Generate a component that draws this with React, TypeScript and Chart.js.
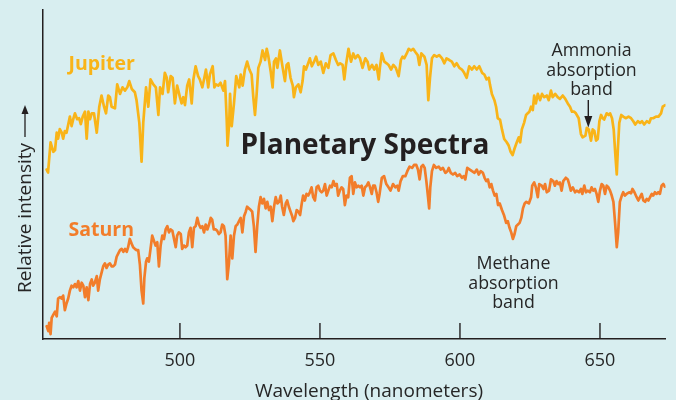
import React, { useEffect, useRef } from 'react';
import { Chart, registerables } from 'chart.js';

Chart.register(...registerables);

// Wavelength range (nm) and tick labels
const xMin = 451.1;
const xMax = 673.4;
const xTickValues = [500, 550, 600, 650];

// [wavelength nm, relative intensity 0..100]
const jupiterSpectrum: [number, number][] = [
  [452.4,51.5],[452.9,50.6],[453.8,59.8],[454.8,56.9],[455.4,57.4],[456.0,62.7],[456.5,60.9],[457.1,63.8],[457.8,62.7],[458.3,60.9],
  [458.9,63.2],[459.5,62.7],[460.7,67.6],[461.3,64.7],[461.9,66.8],[462.5,68.6],[463.3,66.8],[464.0,67.1],[464.6,65.3],[465.3,67.6],
  [466.1,69.1],[466.7,60.9],[467.3,69.1],[467.9,66.8],[468.5,68.6],[469.3,68.6],[470.3,62.7],[471.2,70.6],[472.0,74.0],[472.9,70.6],
  [473.6,68.6],[474.4,74.0],[475.0,73.5],[475.6,70.6],[476.8,70.1],[477.6,77.4],[478.6,74.5],[479.5,76.5],[480.4,75.5],[481.2,76.5],
  [481.9,78.4],[482.8,76.0],[483.9,75.0],[484.5,72.6],[485.5,65.7],[486.3,53.9],[486.9,65.7],[487.9,76.5],[488.7,70.6],[489.5,78.9],
  [490.5,77.4],[491.4,76.5],[492.3,68.1],[492.9,76.5],[493.8,74.5],[494.6,80.9],[495.3,79.4],[495.8,75.0],[496.7,79.9],[497.4,79.4],
  [498.2,71.6],[499.0,77.0],[500.0,73.5],[500.6,71.6],[501.2,73.5],[501.8,71.1],[502.6,77.0],[503.3,78.9],[504.2,71.6],[504.8,78.9],
  [505.6,82.9],[506.5,79.9],[507.1,78.9],[508.0,76.5],[508.6,78.9],[509.3,81.9],[510.1,76.5],[510.7,80.4],[511.7,82.9],[512.3,76.5],
  [512.9,77.4],[513.7,77.0],[514.5,77.9],[515.5,75.5],[516.1,78.4],[516.7,66.7],[517.0,58.8],[517.6,65.7],[517.9,74.5],[518.5,64.7],
  [519.3,71.6],[520.1,79.9],[521.2,76.5],[521.7,80.4],[522.4,77.0],[523.2,81.9],[524.0,84.3],[524.8,81.9],[525.6,80.4],[526.2,73.5],
  [526.8,68.1],[527.4,74.5],[528.0,82.4],[528.8,84.3],[529.5,87.7],[530.4,84.8],[531.0,88.2],[531.5,86.3],[532.4,81.4],[533.1,76.5],
  [533.6,84.3],[534.3,85.3],[534.8,82.4],[535.7,87.7],[536.7,82.4],[537.5,78.4],[538.1,83.3],[538.7,83.8],[539.5,79.4],[540.3,77.0],
  [540.7,73.5],[541.4,76.5],[542.3,77.4],[543.1,75.0],[543.8,78.4],[544.3,82.9],[545.0,81.9],[545.8,83.8],[546.4,85.3],[547.1,82.9],
  [547.9,84.3],[548.6,85.8],[549.4,83.3],[550.3,84.3],[551.2,80.9],[552.1,83.8],[553.0,82.4],[553.8,86.3],[554.8,86.8],[555.7,84.8],
  [556.5,83.3],[557.2,83.8],[558.1,83.3],[558.7,78.9],[559.3,83.3],[560.2,88.2],[561.1,84.3],[561.9,86.8],[562.6,85.3],[563.5,86.3],
  [564.3,85.3],[565.2,82.4],[566.2,85.3],[567.0,84.3],[567.6,81.9],[568.6,83.3],[569.4,81.9],[570.2,83.3],[571.0,78.9],[571.4,82.4],
  [572.1,86.8],[573.0,84.3],[573.8,83.8],[574.5,83.3],[575.4,81.9],[576.2,83.3],[577.1,82.4],[578.1,79.9],[578.9,84.8],[579.5,85.8],
  [580.1,85.3],[581.0,86.8],[581.7,88.2],[582.5,87.7],[583.3,88.2],[584.0,87.3],[584.9,86.3],[585.5,83.3],[586.2,86.8],[587.3,85.8],
  [588.1,83.3],[588.7,72.6],[589.3,79.4],[590.0,85.3],[590.8,86.3],[591.7,85.8],[592.6,86.3],[593.6,85.3],[594.4,83.8],[595.2,85.3],
  [596.2,84.8],[597.1,84.3],[598.0,82.9],[598.8,83.8],[599.8,82.4],[600.7,81.9],[601.5,80.9],[602.4,79.4],[603.3,82.9],[604.3,81.9],
  [605.1,82.9],[606.0,81.9],[606.9,82.9],[607.9,80.9],[608.7,80.4],[609.5,78.9],[610.3,79.4],[610.7,77.4],[611.4,74.5],[612.3,72.6],
  [612.9,70.6],[613.5,67.1],[614.3,66.7],[615.0,63.7],[615.8,60.8],[616.7,59.8],[617.4,58.8],[618.1,56.9],[618.8,55.9],[619.5,57.9],
  [620.3,59.8],[621.0,61.3],[621.5,59.8],[622.1,63.7],[622.9,65.7],[623.6,68.1],[624.2,68.6],[624.8,69.1],[625.4,70.6],[626.0,69.6],
  [626.5,74.0],[627.1,71.6],[627.8,74.5],[628.6,72.6],[629.3,74.5],[630.1,73.5],[631.0,74.0],[631.7,72.6],[632.5,75.5],[633.1,73.5],
  [634.0,74.5],[634.9,73.5],[635.7,73.0],[636.7,74.0],[637.6,73.0],[638.5,71.6],[639.3,70.6],[640.0,69.1],[640.8,69.1],[641.4,68.6],
  [642.4,67.1],[643.2,62.3],[643.8,61.3],[644.8,61.8],[645.3,64.2],[646.0,63.7],[646.8,60.3],[647.4,63.7],[648.0,63.2],[648.6,60.3],
  [649.2,60.8],[649.8,66.2],[650.4,68.1],[651.0,67.1],[651.5,66.7],[652.4,68.6],[653.1,68.1],[653.6,68.6],[654.3,67.1],[654.9,63.7],
  [655.5,55.9],[656.0,50.0],[656.4,57.9],[656.9,65.7],[657.6,68.1],[658.3,67.6],[659.3,67.1],[660.2,67.6],[661.1,67.1],[661.9,66.2],
  [662.6,65.2],[663.5,66.2],[664.3,65.7],[665.0,66.2],[665.8,65.2],[666.7,66.2],[667.6,65.7],[668.2,67.1],[669.0,67.1],[670.0,67.6],
  [670.9,67.6],[671.8,68.6],[672.4,70.6],[673.3,71.1],
];

const saturnSpectrum: [number, number][] = [
  [452.4,3.9],[453.0,2.4],[453.3,4.9],[453.8,1.5],[454.2,6.4],[454.8,7.4],[455.4,8.3],[456.0,6.9],[456.5,12.3],[457.1,12.7],
  [457.8,12.3],[458.3,13.2],[458.9,8.8],[459.5,10.8],[460.1,12.3],[460.7,14.7],[461.3,16.2],[461.9,15.7],[462.5,16.7],[463.1,15.7],
  [463.7,17.6],[464.3,14.7],[464.9,17.1],[465.5,16.2],[466.1,12.7],[466.7,15.7],[467.3,11.8],[467.9,16.7],[468.5,18.1],[469.0,16.2],
  [469.6,17.1],[470.3,19.1],[470.8,14.7],[471.4,18.1],[472.0,20.1],[472.6,22.1],[473.2,23.0],[473.8,21.6],[474.4,22.6],[475.0,23.0],
  [475.6,22.1],[476.2,22.1],[476.8,22.6],[477.4,25.0],[478.0,26.0],[478.6,27.0],[479.2,27.4],[479.8,26.5],[480.4,27.4],[481.0,26.5],
  [481.5,27.9],[482.1,30.4],[482.8,28.9],[483.3,27.9],[483.9,27.4],[484.5,27.0],[485.1,27.0],[485.7,22.6],[486.3,14.7],[486.9,10.8],
  [487.3,18.6],[487.9,23.5],[488.3,24.5],[488.9,23.5],[489.5,27.4],[490.1,31.4],[490.7,29.9],[491.3,28.4],[491.9,29.4],[492.5,22.1],
  [493.1,28.4],[493.7,31.4],[494.3,30.4],[494.9,33.3],[495.5,34.3],[496.1,32.4],[496.7,33.3],[497.3,32.9],[497.9,30.4],[498.5,27.9],
  [499.0,31.4],[499.6,32.4],[500.3,31.9],[500.8,27.4],[501.4,28.4],[502.0,27.9],[502.6,28.4],[503.2,32.4],[503.8,33.8],[504.4,27.9],
  [505.0,33.8],[505.6,34.3],[506.2,36.8],[506.8,34.8],[507.4,33.8],[508.0,34.3],[508.6,32.4],[509.2,34.8],[509.8,33.3],[510.4,34.8],
  [511.0,36.8],[511.5,36.3],[512.1,33.3],[512.8,33.3],[513.3,32.9],[513.9,31.9],[514.5,32.4],[515.1,34.8],[515.7,34.3],[516.3,31.4],
  [516.9,18.2],[517.5,23.0],[518.1,31.4],[518.7,24.5],[519.3,31.4],[519.9,34.3],[520.5,34.8],[521.1,35.8],[521.7,36.8],[522.3,32.4],
  [522.9,37.3],[523.5,38.7],[524.0,40.2],[524.6,39.7],[525.3,39.2],[525.8,38.7],[526.4,34.3],[527.0,26.5],[527.6,34.3],[528.2,40.2],
  [528.8,43.1],[529.4,41.2],[530.0,42.6],[530.6,39.7],[531.2,41.7],[531.8,39.2],[532.4,40.2],[533.0,35.8],[533.6,40.2],[534.2,43.1],
  [534.8,41.2],[535.4,41.7],[536.0,43.6],[536.5,40.2],[537.1,37.7],[537.8,41.2],[538.3,42.1],[538.9,40.2],[539.5,38.7],[540.1,37.3],
  [540.5,35.8],[541.1,36.8],[541.7,39.2],[542.3,38.7],[542.9,37.7],[543.5,41.2],[544.0,43.6],[544.6,42.1],[545.2,44.1],[545.8,43.6],
  [546.4,44.6],[547.0,46.1],[547.6,43.1],[548.2,42.1],[548.8,46.1],[549.4,46.6],[550.0,45.1],[550.6,44.6],[551.2,45.1],[551.8,47.1],
  [552.4,43.6],[553.0,45.1],[553.6,46.6],[554.2,46.1],[554.8,48.0],[555.4,46.6],[556.0,47.1],[556.5,43.6],[557.1,45.1],[557.7,46.1],
  [558.3,45.6],[558.9,40.7],[559.5,43.6],[560.1,43.1],[560.7,49.0],[561.3,49.5],[561.9,44.1],[562.5,47.6],[563.1,46.1],[563.7,46.6],
  [564.3,46.1],[564.9,46.6],[565.5,43.6],[566.1,46.1],[566.7,46.6],[567.3,47.6],[567.9,46.1],[568.5,44.1],[569.0,46.6],[569.6,46.6],
  [570.2,44.6],[570.8,41.7],[571.3,44.1],[572.1,49.0],[572.9,49.5],[573.7,47.1],[574.5,46.1],[575.2,45.1],[576.1,47.1],[576.9,46.1],
  [577.6,46.6],[578.1,45.1],[578.8,48.0],[579.6,49.5],[580.5,49.5],[581.2,51.0],[582.0,52.4],[582.9,52.0],[583.6,52.9],[584.4,52.9],
  [585.0,51.5],[585.6,48.5],[586.2,52.4],[586.8,52.9],[587.4,52.0],[588.0,48.0],[588.6,43.1],[589.0,39.7],[589.4,46.1],[590.0,51.0],
  [590.7,52.9],[591.5,52.0],[592.4,52.4],[593.1,51.5],[593.9,52.0],[594.8,50.5],[595.5,51.0],[596.0,52.0],[596.7,50.5],[597.5,50.0],
  [598.3,50.5],[599.0,49.5],[599.9,50.0],[600.7,49.0],[601.4,49.5],[601.9,48.5],[602.6,52.0],[603.5,51.5],[604.3,51.0],[605.2,50.5],
  [606.0,51.5],[606.7,50.0],[607.4,51.0],[608.2,50.5],[608.8,49.0],[609.4,48.0],[610.0,48.5],[610.6,46.1],[611.2,47.1],[611.8,45.1],
  [612.4,43.6],[613.0,44.1],[613.6,40.7],[614.2,41.2],[615.0,39.2],[615.7,37.7],[616.5,35.3],[617.1,35.8],[617.7,33.8],[618.3,32.4],
  [618.9,30.4],[619.5,31.9],[620.1,34.3],[620.7,34.8],[621.3,35.3],[621.9,36.8],[622.5,39.7],[623.1,41.2],[623.7,41.7],[624.6,41.2],
  [625.4,43.1],[625.8,46.6],[626.5,47.6],[627.1,46.1],[627.8,43.1],[628.3,47.1],[629.2,46.6],[629.8,45.6],[630.4,47.1],[631.0,44.6],
  [631.8,45.1],[632.5,48.5],[633.3,48.0],[633.9,46.6],[634.5,48.0],[635.1,47.1],[635.7,47.6],[636.3,45.1],[636.9,48.0],[637.8,49.0],
  [638.5,48.5],[639.0,47.1],[639.6,45.1],[640.3,46.1],[641.1,44.6],[641.7,45.1],[642.5,44.6],[643.2,45.6],[643.7,44.1],[644.4,46.6],
  [645.0,44.6],[645.6,45.1],[646.4,44.6],[647.0,46.1],[647.6,45.1],[648.2,45.6],[648.8,44.1],[649.4,41.7],[650.0,45.1],[650.6,47.1],
  [651.2,46.6],[651.8,44.1],[652.4,46.6],[653.0,46.1],[653.6,45.1],[654.2,43.6],[654.8,41.7],[655.4,35.3],[656.0,27.9],[656.5,32.4],
  [657.1,41.7],[657.8,43.6],[658.3,44.6],[658.9,43.6],[659.5,44.1],[660.4,44.6],[661.1,44.3],[661.6,45.6],[662.3,44.6],[663.1,43.1],
  [663.7,42.1],[664.3,43.1],[664.9,44.1],[665.5,42.1],[666.1,41.7],[666.7,42.6],[667.3,42.1],[667.9,43.1],[668.5,44.1],[669.0,43.6],
  [669.6,44.6],[670.2,44.1],[670.8,44.6],[671.4,44.1],[672.0,46.6],[672.6,47.1],[673.2,46.3],
];

const BG = '#d8eef0';
const JUPITER = '#f9b418';
const SATURN = '#f27d2a';
const AXIS = '#231f20';
const TEXT = '#262626';
const FONT = '"Open Sans", "Noto Sans", sans-serif';

const decorPlugin = {
  id: 'decor',
  beforeDraw(chart: any) {
    const { ctx, width, height } = chart;
    ctx.save();
    ctx.fillStyle = BG;
    ctx.fillRect(0, 0, width, height);
    ctx.restore();
  },
  afterDraw(chart: any) {
    const { ctx, chartArea } = chart;
    const xs = chart.scales.x;
    ctx.save();
    // inward tick marks
    ctx.strokeStyle = AXIS;
    ctx.lineWidth = 1.4;
    xTickValues.forEach((v) => {
      const px = xs.getPixelForValue(v);
      ctx.beginPath();
      ctx.moveTo(px, chartArea.bottom);
      ctx.lineTo(px, chartArea.bottom - 16);
      ctx.stroke();
    });

    // series labels
    ctx.textAlign = 'left';
    ctx.textBaseline = 'alphabetic';
    ctx.font = `bold 19.5px ${FONT}`;
    ctx.fillStyle = JUPITER;
    ctx.fillText('Jupiter', 68.5, 70);
    ctx.fillStyle = SATURN;
    ctx.fillText('Saturn', 68.5, 236);

    // title
    ctx.textAlign = 'center';
    ctx.fillStyle = AXIS;
    ctx.font = `bold 28px ${FONT}`;
    ctx.fillText('Planetary Spectra', 365, 154);

    // annotations
    ctx.fillStyle = TEXT;
    ctx.font = `17.8px ${FONT}`;
    ['Ammonia', 'absorption', 'band'].forEach((t, i) => ctx.fillText(t, 591.5, 56 + i * 19.7));
    ['Methane', 'absorption', 'band'].forEach((t, i) => ctx.fillText(t, 513.5, 269 + i * 19.7));

    // ammonia arrow
    ctx.strokeStyle = AXIS;
    ctx.lineWidth = 1.4;
    ctx.beginPath();
    ctx.moveTo(588.3, 100);
    ctx.lineTo(588.3, 118);
    ctx.stroke();
    ctx.fillStyle = AXIS;
    ctx.beginPath();
    ctx.moveTo(584.3, 116);
    ctx.lineTo(592.3, 116);
    ctx.lineTo(588.3, 127.5);
    ctx.closePath();
    ctx.fill();

    // x axis title
    ctx.fillStyle = TEXT;
    ctx.font = `19px ${FONT}`;
    ctx.fillText('Wavelength (nanometers)', 369, 396.5);

    // y axis title, rotated
    ctx.save();
    ctx.translate(31, 218);
    ctx.rotate(-Math.PI / 2);
    ctx.textAlign = 'center';
    ctx.fillText('Relative intensity', 0, 0);
    ctx.restore();

    // y title arrow
    ctx.strokeStyle = AXIS;
    ctx.lineWidth = 1.3;
    ctx.beginPath();
    ctx.moveTo(25, 137);
    ctx.lineTo(25, 112);
    ctx.stroke();
    ctx.fillStyle = AXIS;
    ctx.beginPath();
    ctx.moveTo(21.5, 114);
    ctx.lineTo(28.5, 114);
    ctx.lineTo(25, 105);
    ctx.closePath();
    ctx.fill();

    ctx.restore();
  },
};

export default function App() {
  const canvasRef = useRef<HTMLCanvasElement>(null);

  useEffect(() => {
    const canvas = canvasRef.current;
    if (!canvas) return;
    Chart.defaults.font.family = FONT;
    const chart = new Chart(canvas, {
      type: 'line',
      data: {
        datasets: [
          {
            label: 'Jupiter',
            data: jupiterSpectrum.map(([x, y]) => ({ x, y })),
            borderColor: JUPITER,
            borderWidth: 2.7,
            pointRadius: 0,
            tension: 0,
            borderJoinStyle: 'round',
            borderCapStyle: 'round',
          },
          {
            label: 'Saturn',
            data: saturnSpectrum.map(([x, y]) => ({ x, y })),
            borderColor: SATURN,
            borderWidth: 2.7,
            pointRadius: 0,
            tension: 0,
            borderJoinStyle: 'round',
            borderCapStyle: 'round',
          },
        ],
      },
      options: {
        responsive: false,
        animation: false,
        events: [],
        layout: { padding: { left: 43, right: 10.5, top: 10, bottom: 17.4 } },
        plugins: { legend: { display: false }, tooltip: { enabled: false }, title: { display: false } },
        scales: {
          x: {
            type: 'linear',
            min: xMin,
            max: xMax,
            afterBuildTicks: (s: any) => {
              s.ticks = xTickValues.map((v) => ({ value: v }));
            },
            ticks: {
              font: { size: 18, family: FONT },
              color: TEXT,
              padding: 11,
              maxRotation: 0,
              autoSkip: false,
            },
            grid: { display: false, drawTicks: false },
            border: { display: true, color: AXIS, width: 1.5 },
          },
          y: {
            type: 'linear',
            min: 0,
            max: 100,
            ticks: { display: false },
            grid: { display: false, drawTicks: false },
            border: { display: true, color: AXIS, width: 1.5 },
          },
        },
      },
      plugins: [decorPlugin],
    });
    return () => chart.destroy();
  }, []);

  return (
    <div style={{ position: 'fixed', left: 0, top: 0, width: 676, height: 400, background: BG }}>
      <canvas ref={canvasRef} width={676} height={400} style={{ display: 'block', width: 676, height: 400 }} />
    </div>
  );
}
